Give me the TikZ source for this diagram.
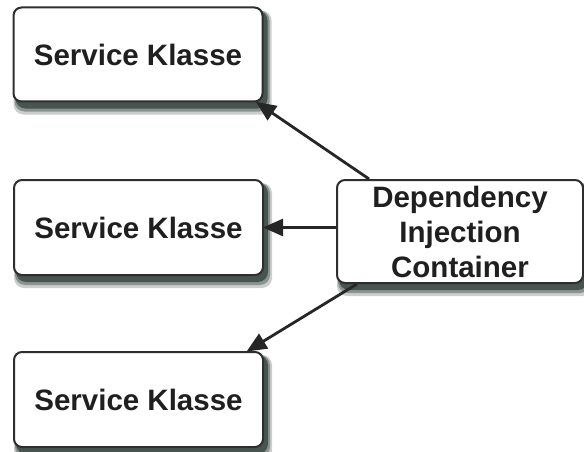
\documentclass[tikz,border=0pt]{standalone}
\usepackage{fontspec}
\setmainfont{Liberation Sans}
\usetikzlibrary{arrows.meta,calc,backgrounds}
\definecolor{edge}{HTML}{2E2E2E}
\definecolor{shade}{HTML}{2B3A35}
\begin{document}
\begin{tikzpicture}[x=1pt,y=-1pt,
  box/.style={draw=edge, line width=2pt, rounded corners=8pt, fill=white,
    minimum width=249pt, minimum height=94pt, inner sep=0pt,
    font=\fontsize{29.5}{35}\selectfont\bfseries, text=black!88, align=center},
  shadowlayer/.style={fill=shade, rounded corners=10pt},
  conn/.style={draw=black!85, line width=2.8pt,
    -{Triangle[length=20pt,width=17pt]}, shorten >=-1pt}]
\useasboundingbox (0,0) rectangle (584,452);
\node[box] (s1) at (138,54.5) {Service Klasse};
\node[box, minimum height=95pt] (s2) at (138.5,227.5) {Service Klasse};
\node[box, minimum height=95pt] (s3) at (138.5,399.5) {Service Klasse};
\node[box, minimum width=246pt, minimum height=103pt] (dic) at (460,231.5)
  {Dependency\\Injection\\Container};
\begin{scope}[on background layer]
\foreach \n in {s1,s2,s3,dic}{
  \fill[shadowlayer, opacity=0.25] ($(\n.north west)+(1,4)$) rectangle ($(\n.south east)+(8,12)$);
  \fill[shadowlayer, opacity=0.4] ($(\n.north west)+(2,4)$) rectangle ($(\n.south east)+(6,9)$);
  \fill[shadowlayer, opacity=0.7] ($(\n.north west)+(3,4)$) rectangle ($(\n.south east)+(4,6)$);
}
\end{scope}
\draw[conn] (dic.150) -- (s1.-22.5);
\draw[conn] (dic.west |- s2.east) -- (s2.east);
\draw[conn] (dic.207) -- (s3.24);
\end{tikzpicture}
\end{document}
